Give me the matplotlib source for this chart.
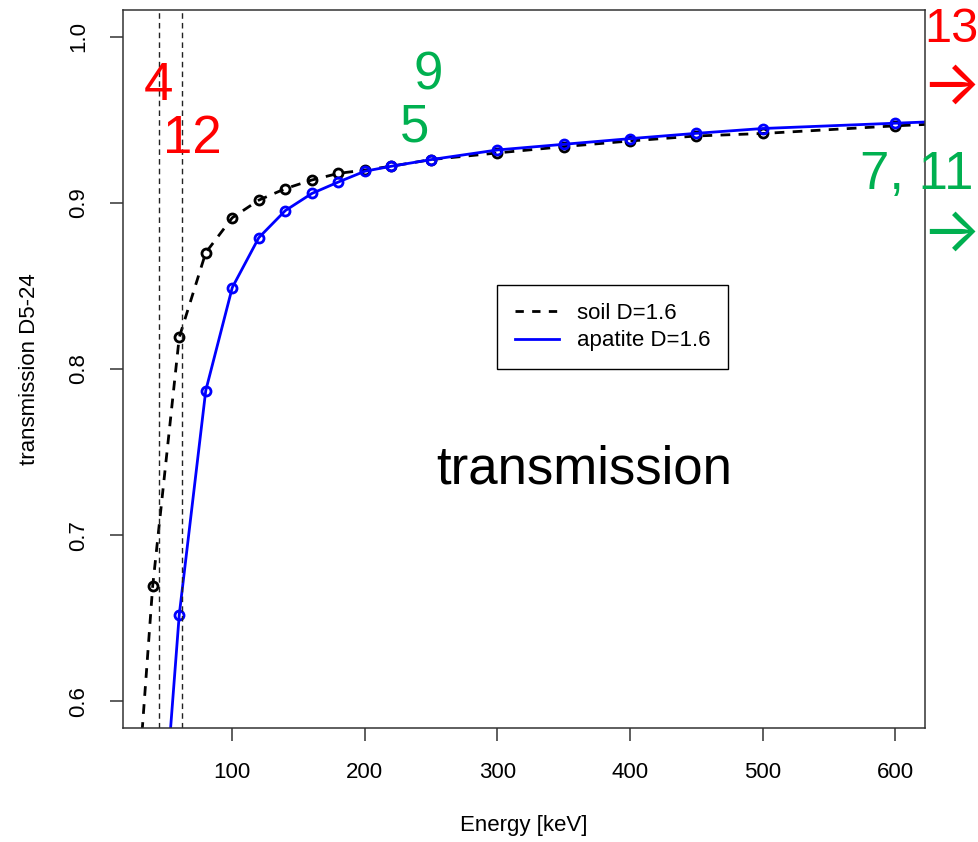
import numpy as np
import matplotlib
matplotlib.use("Agg")
import matplotlib.pyplot as plt
from matplotlib.lines import Line2D

plt.rcParams['font.family'] = ['Liberation Sans', 'DejaVu Sans']

# data
energy = [30, 40, 60, 80, 100, 120, 140, 160, 180, 200, 220, 250, 300, 350, 400, 450, 500, 600, 700]
soil = [0.56, 0.6695, 0.819, 0.870, 0.891, 0.9016, 0.9085, 0.9137, 0.9177, 0.9197,
        0.922, 0.926, 0.930, 0.9338, 0.9372, 0.9402, 0.9417, 0.9463, 0.950]
apatite = [0.25, 0.443, 0.652, 0.787, 0.849, 0.879, 0.8953, 0.9056, 0.9125, 0.919,
           0.922, 0.926, 0.9318, 0.9352, 0.9386, 0.9418, 0.9447, 0.9479, 0.951]
edges = [45, 62]
xticks = [100, 200, 300, 400, 500, 600]
yticks = [0.6, 0.7, 0.8, 0.9, 1.0]

W, H = 979, 842
fig = plt.figure(figsize=(W / 100, H / 100), dpi=100)
ax = fig.add_axes([123 / W, 1 - 728 / H, (925 - 123) / W, (728 - 10) / H])

soil_ls = (0, (3.5, 3))
ax.plot(energy, soil, color='black', lw=2, linestyle=soil_ls,
        marker='o', ms=6.5, mfc='none', mew=2)
ax.plot(energy, apatite, color='blue', lw=2,
        marker='o', ms=6.5, mfc='none', mew=2)
for e in edges:
    ax.axvline(e, color='#222222', lw=1, linestyle=(0, (4, 3)))

ax.set_xlim(17.6, 622.4)
ax.set_ylim(0.584, 1.016)
ax.set_xticks(xticks)
ax.set_yticks(yticks)
ax.set_yticklabels(['%.1f' % v for v in yticks], rotation=90, va='center')
ax.tick_params(direction='out', length=9.4, width=1.1, labelsize=16, color='#333333')
ax.tick_params(axis='x', pad=15)
ax.tick_params(axis='y', pad=15)
for s in ax.spines.values():
    s.set_color('#333333')
    s.set_linewidth(1.1)

ax.set_xlabel('Energy [keV]', fontsize=16)
ax.set_ylabel('transmission D5-24', fontsize=16)
ax.xaxis.set_label_coords(0.5, -(815 - 728) / 718)
ax.yaxis.set_label_coords(-(123 - 40) / 802, 0.5)

handles = [Line2D([], [], color='black', lw=2, linestyle=(0, (3, 3))),
           Line2D([], [], color='blue', lw=2)]
leg = ax.legend(handles, ['soil D=1.6', 'apatite D=1.6'], loc='upper left',
                bbox_to_anchor=((497 - 123) / 802, (728 - 285) / 718), borderaxespad=0,
                fontsize=16, frameon=True, fancybox=False, framealpha=1,
                edgecolor='black', handlelength=2.0, handletextpad=0.8,
                borderpad=0.8, labelspacing=0.3)
leg.get_frame().set_linewidth(1.0)

red = '#FF0000'
green = '#00B050'
def ftext(x, y, s, c, size=38, fam=None):
    kw = {} if fam is None else {'family': fam}
    fig.text(x / W, 1 - y / H, s, color=c, fontsize=size, ha='center', va='baseline', **kw)

ftext(584, 483, 'transmission', 'black')
ftext(158, 100, '4', red)
ftext(192, 153, '12', red)
ftext(428, 90, '9', green)
ftext(415, 141, '5', green)
ftext(951, 42, '13', red, 35)
ftext(917, 189, '7, 11', green)
arrow_fam = ['Inter', 'DejaVu Sans']
ftext(951, 104, '\u2192', red, 45, arrow_fam)
ftext(951, 251, '\u2192', green, 45, arrow_fam)

fig.savefig('out.png', dpi=100)
